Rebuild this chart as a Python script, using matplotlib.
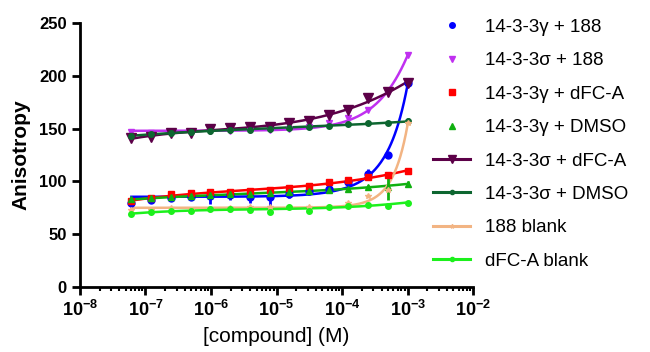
import numpy as np
import matplotlib.pyplot as plt
from matplotlib.lines import Line2D
from matplotlib.ticker import FixedLocator, NullFormatter

plt.rcParams['font.family'] = ['Liberation Sans', 'DejaVu Sans']

# concentration series (M), 2-fold dilutions
conc = np.array([6.1e-8, 1.22e-7, 2.44e-7, 4.88e-7, 9.77e-7, 1.95e-6, 3.91e-6,
                 7.81e-6, 1.56e-5, 3.13e-5, 6.25e-5, 1.25e-4, 2.5e-4, 5e-4, 1e-3])

labels = ['14-3-3γ + 188', '14-3-3σ + 188', '14-3-3γ + dFC-A', '14-3-3γ + DMSO',
          '14-3-3σ + dFC-A', '14-3-3σ + DMSO', '188 blank', 'dFC-A blank']

g_188 = [80, 82, 84, 85, 86, 87, 85, 85, 88, 91, 93, 99, 107, 125, 193]
s_188 = [147, 146, 146, 147, 148, 148, 149, 149, 150, 152, 155, 160, 168, 184, 220]
g_dfca = [81, 84, 88, 89, 90, 90, 91, 92, 94, 96, 99, 101, 104, 106, 110]
g_dmso = [83, 84, 85, 86, 87, 88, 88, 89, 90, 91, 92, 93, 95, 95, 98]
s_dfca = [141, 142, 146, 146, 150, 151, 152, 152, 155, 157, 163, 168, 179, 185, 193]
s_dmso = [143, 145, 146, 147, 148, 149, 149, 150, 151, 152, 153, 154, 155, 155, 157]
blank_188 = [73, 73, 75, 73, 74, 75, 76, 76, 76, 76, 76, 80, 86, 92, 155]
blank_dfca = [69, 71, 72, 72, 74, 74, 73, 71, 76, 72, 76, 77, 78, 77, 80]

# error bars (SD) where visible
err_g_188 = [0, 0, 2, 2, 7, 5, 5, 9, 4, 4, 4, 4, 5, 2, 2]
err_g_dmso = [0, 0, 0, 0, 0, 0, 0, 0, 0, 0, 0, 0, 2, 13, 2]
err_g_dfca = [0, 0, 0, 0, 0, 0, 0, 0, 0, 0, 0, 0, 0, 0, 3]
err_s_dmso = [0, 0, 0, 0, 0, 0, 0, 0, 0, 0, 0, 0, 0, 0, 3]

series = [g_188, s_188, g_dfca, g_dmso, s_dfca, s_dmso, blank_188, blank_dfca]
errors = [err_g_188, None, err_g_dfca, err_g_dmso, None, err_s_dmso, None, None]
colors = ['#0000ff', '#c030f0', '#ff0000', '#10b010', '#5c0048', '#0d6630', '#f2b483', '#1cf01c']
markers = ['o', 'v', 's', '^', 'v', 'o', '*', 'o']
msizes = [5, 5, 5, 4, 7, 4, 4, 4]
# 'lin': quadratic in concentration, 'log': cubic in log10(concentration)
fit_kind = ['lin', 'lin', 'log', 'log', 'log', 'log', 'lin', 'log']

x_major = [1e-8, 1e-7, 1e-6, 1e-5, 1e-4, 1e-3, 1e-2]

fig = plt.figure(figsize=(6.5, 3.52), dpi=100)
ax = fig.add_axes([0.123, 0.185, 0.605, 0.749])

xf = np.logspace(np.log10(conc[0]), np.log10(conc[-1]), 300)
for y, e, c, m, ms, kind in zip(series, errors, colors, markers, msizes, fit_kind):
    y = np.array(y, dtype=float)
    # fitted curve
    if kind == 'lin':
        p = np.polyfit(conc * 1e3, y, 2)
        yf = np.polyval(p, xf * 1e3)
    else:
        p = np.polyfit(np.log10(conc), y, 3)
        yf = np.polyval(p, np.log10(xf))
    ax.plot(xf, yf, color=c, lw=1.8, zorder=2)
    ax.errorbar(conc, y, yerr=e, fmt=m, color=c, ms=ms, elinewidth=2,
                capsize=0, zorder=3)

ax.set_xscale('log')
ax.set_xlim(1e-8, 1e-2)
ax.set_ylim(0, 250)
ax.set_xticks(x_major)
minor = [d * k for d in x_major[:-1] for k in range(2, 10)]
ax.xaxis.set_minor_locator(FixedLocator(minor))
ax.xaxis.set_minor_formatter(NullFormatter())
ax.set_yticks([0, 50, 100, 150, 200, 250])
for s in ['top', 'right']:
    ax.spines[s].set_visible(False)
for s in ['left', 'bottom']:
    ax.spines[s].set_linewidth(2)
ax.tick_params(which='major', length=6, width=2)
ax.tick_params(which='minor', length=3, width=1.5)
ax.tick_params(axis='y', labelsize=12)
ax.tick_params(axis='x', labelsize=13)
for lab in ax.get_xticklabels() + ax.get_yticklabels():
    lab.set_fontweight('bold')
ax.set_ylabel('Anisotropy', fontsize=15, fontweight='bold', labelpad=6)
ax.set_xlabel('[compound] (M)', fontsize=15, labelpad=5)

handles = []
for i, (c, m) in enumerate(zip(colors, markers)):
    if i < 4:
        handles.append(Line2D([], [], color=c, marker=m, ms=4, ls='none'))
    else:
        handles.append(Line2D([], [], color=c, marker=m, ms=6 if m == 'v' else 3, lw=2.2))
fig.legend(handles, labels, loc='upper left', bbox_to_anchor=(0.64, 0.995),
           frameon=False, fontsize=13.5, labelspacing=0.87, handlelength=2.0,
           handletextpad=0.8)

fig.savefig('out.png', dpi=100)
